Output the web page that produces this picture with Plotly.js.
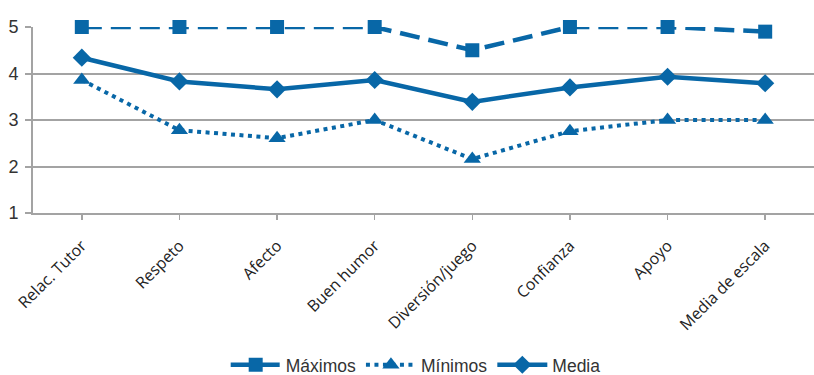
<!DOCTYPE html>
<html>
<head>
<meta charset="utf-8">
<script src="https://cdn.plot.ly/plotly-3.0.1.min.js"></script>
<style>html,body{margin:0;padding:0;background:#fff;}#chart{width:814px;height:375px;}</style>
</head>
<body>
<div id="chart"></div>
<script>
const categories = ["Relac. Tutor", "Respeto", "Afecto", "Buen humor", "Diversión/juego", "Confianza", "Apoyo", "Media de escala"];
const maximos = [5, 5, 5, 5, 4.5, 5, 5, 4.9];
const minimos = [3.86, 2.78, 2.61, 3.0, 2.16, 2.76, 3.0, 3.0];
const media = [4.34, 3.83, 3.66, 3.86, 3.39, 3.70, 3.93, 3.79];
const yTicks = [1, 2, 3, 4, 5];

const blue = "#0867a7";
const grid = "#a3a3a3";

const traces = [
  {x: categories, y: maximos, name: "Máximos", type: "scatter", mode: "lines+markers", cliponaxis: false,
   line: {color: blue, width: 4.5, dash: "20px,9px"}, marker: {symbol: "square", size: 14, color: blue}},
  {x: categories, y: minimos, name: "Mínimos", type: "scatter", mode: "lines+markers", cliponaxis: false,
   line: {color: blue, width: 4, dash: "4px,4.5px"}, marker: {symbol: "triangle-up", size: 15, color: blue}},
  {x: categories, y: media, name: "Media", type: "scatter", mode: "lines+markers", cliponaxis: false,
   line: {color: blue, width: 4.5}, marker: {symbol: "diamond", size: 14, color: blue}}
];

const layout = {
  width: 814, height: 375,
  margin: {l: 33, r: 0, t: 27, b: 162, autoexpand: false},
  paper_bgcolor: "#fff", plot_bgcolor: "#fff",
  showlegend: true,
  legend: {orientation: "h", x: 0.49, xanchor: "center", yref: "container", y: 0.027, yanchor: "middle",
           itemwidth: 50, tracegroupgap: 0,
           font: {family: "Liberation Sans, Arial, sans-serif", size: 17.5, color: "#333"}},
  xaxis: {type: "category", range: [-0.5, 7.5], showgrid: false, showline: true, linecolor: grid, linewidth: 2,
          ticks: "outside", ticklen: 5, tickwidth: 1.5, tickcolor: grid, tickangle: -45, ticklabelstandoff: 10,
          automargin: false,
          tickfont: {family: "Open Sans, sans-serif", size: 16, color: "#222"}, fixedrange: true},
  yaxis: {range: [1, 5], tickvals: yTicks, ticktext: yTicks.map(String), showgrid: true, gridcolor: grid, gridwidth: 2,
          showline: true, linecolor: grid, linewidth: 2, zeroline: false, automargin: false,
          ticks: "outside", ticklen: 6, tickwidth: 2, tickcolor: grid, ticklabelstandoff: 3,
          tickfont: {family: "Liberation Sans, Arial, sans-serif", size: 18, color: "#333"}}
};

Plotly.newPlot("chart", traces, layout, {displayModeBar: false, staticPlot: true});
</script>
</body>
</html>
